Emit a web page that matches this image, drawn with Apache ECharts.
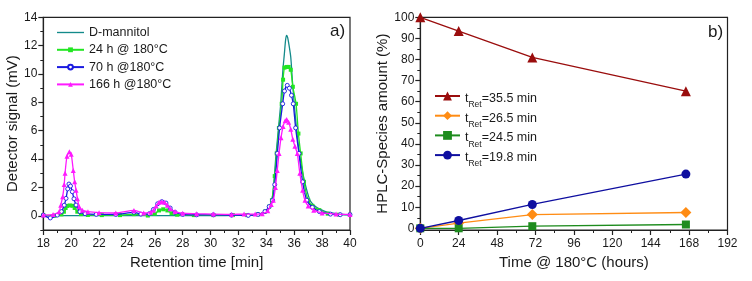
<!DOCTYPE html>
<html><head><meta charset="utf-8">
<script src="https://cdn.jsdelivr.net/npm/echarts@6/dist/echarts.min.js"></script>
<style>html,body{margin:0;padding:0;background:#fff}#c{width:752px;height:281px}</style>
</head><body><div id="c"></div>
<script>
// ---- Panel a) chromatograms: [retention time (min), signal (mV)]
const mannitol = [[18,0.02],[20,0.02],[22,0.02],[24,0.02],[26,0.02],[28,0.02],[30,0.02],[32,0.03],[33,0.05],[33.5,0.12],[34.0,0.35],[34.4,1.1],[34.7,4.4],[34.9,6.5],[35.03,7.9],[35.18,10.2],[35.29,11.4],[35.38,12.4],[35.45,12.73],[35.52,12.6],[35.6,12.2],[35.75,11.2],[35.87,9.5],[36.0,7.9],[36.18,6.0],[36.37,4.4],[36.7,2.6],[37.13,1.1],[37.6,0.6],[38.2,0.32],[38.6,0.22],[39.05,0.15],[39.5,0.1],[40,0.08]];
const h24 = [[18,0.05],[18.8,0.0],[19.3,0.1],[19.48,0.29],[19.6,0.55],[19.7,0.7],[19.9,0.73],[20.1,0.71],[20.25,0.55],[20.44,0.29],[20.7,0.12],[21.2,0.06],[22.2,0.05],[23.5,0.05],[24.5,0.12],[25.5,0.02],[26.0,0.15],[26.3,0.38],[26.6,0.46],[26.9,0.38],[27.2,0.18],[27.6,0.08],[28.8,0.05],[30.2,0.05],[31.6,0.05],[32.6,0.05],[33.4,0.1],[33.9,0.3],[34.2,0.65],[34.4,1.1],[34.6,2.8],[34.74,4.4],[34.9,6.2],[35.1,7.9],[35.2,9.6],[35.3,10.45],[35.45,10.5],[35.6,10.5],[35.75,10.3],[35.9,9.1],[36.13,7.9],[36.3,5.8],[36.46,4.4],[36.7,2.4],[37.0,1.1],[37.3,0.7],[37.8,0.4],[38.4,0.15],[39.2,0.08],[40,0.08]];
const h70 = [[18,0.05],[18.5,-0.15],[19.0,0.05],[19.3,0.3],[19.5,0.75],[19.63,1.23],[19.75,1.9],[19.84,2.24],[19.95,2.1],[20.08,1.7],[20.2,1.2],[20.35,0.76],[20.63,0.29],[21.0,0.15],[21.8,0.1],[23.2,0.1],[24.5,0.25],[25.0,0.12],[25.6,0.15],[25.9,0.45],[26.2,0.85],[26.5,1.0],[26.8,0.9],[27.1,0.55],[27.45,0.25],[28.0,0.1],[29.0,0.07],[30.2,0.07],[31.5,0.05],[32.7,0.03],[33.4,0.1],[33.9,0.3],[34.2,0.65],[34.45,1.1],[34.6,2.2],[34.79,4.4],[34.95,6.2],[35.17,7.9],[35.3,8.8],[35.5,9.2],[35.65,9.0],[35.8,8.5],[35.93,7.9],[36.1,6.2],[36.34,4.4],[36.6,2.4],[36.9,1.1],[37.3,0.6],[37.8,0.3],[38.6,0.12],[39.3,0.08],[40,0.08]];
const h166 = [[18,0.05],[18.7,0.1],[19.13,0.29],[19.25,0.75],[19.39,1.35],[19.5,2.2],[19.56,3.0],[19.7,4.2],[19.87,4.51],[20.0,4.35],[20.15,3.2],[20.25,2.4],[20.35,1.8],[20.45,1.2],[20.58,0.64],[20.8,0.4],[21.2,0.29],[22.0,0.22],[23.2,0.2],[24.5,0.38],[25.2,0.2],[25.7,0.25],[25.9,0.4],[26.1,0.7],[26.3,0.95],[26.49,1.0],[26.7,0.95],[26.9,0.75],[27.1,0.5],[27.45,0.3],[28.0,0.18],[29.0,0.15],[30.2,0.12],[31.5,0.1],[32.4,0.12],[33.2,0.12],[33.7,0.15],[34.1,0.35],[34.35,0.8],[34.5,1.1],[34.65,2.0],[34.78,3.2],[34.91,4.4],[35.05,5.5],[35.2,6.3],[35.35,6.7],[35.46,6.8],[35.6,6.6],[35.75,6.1],[35.9,5.4],[36.05,4.9],[36.22,4.4],[36.4,3.0],[36.6,1.8],[36.77,1.1],[37.0,0.7],[37.4,0.4],[38.0,0.2],[39.0,0.12],[40,0.1]];
const namesA = ['D-mannitol','24 h @ 180°C','70 h @180°C','166 h @180°C'];
const yTicksA = [0,2,4,6,8,10,12,14];
const yMinorA = [-1,1,3,5,7,9,11,13];

// ---- Panel b) species amount vs time
const hours = [0,24,70,166];
const ret355 = [100,93.5,81,65];
const ret265 = [0,2.5,6.5,7.5];
const ret245 = [0,0,1,1.8];
const ret198 = [0,3.7,11.3,25.7];
const retTimes = ['35.5','26.5','24.5','19.8'];
const yTicksB = [0,10,20,30,40,50,60,70,80,90,100];
const yMinorB = [5,15,25,35,45,55,65,75,85,95];

const FONT = "'Liberation Sans', Arial, sans-serif";
const TXT = '#1a1a1a';
const AX = '#222';
const namesB = retTimes.map(r => 'tRet=' + r + ' min');
const pairs = ys => hours.map((h, i) => [h, ys[i]]);

const chart = echarts.init(document.getElementById('c'), null, {renderer: 'canvas'});

function xAxisCfg(grid, min, max, interval, name) {
  return {
    type: 'value', gridIndex: grid, min, max, interval,
    name, nameLocation: 'middle', nameGap: 24,
    nameTextStyle: {fontFamily: FONT, fontSize: 15, color: TXT},
    axisLine: {show: true, onZero: false, lineStyle: {color: AX, width: 1.2}},
    axisTick: {show: true, inside: false, length: 5, lineStyle: {color: AX, width: 1.2}},
    minorTick: {show: true, splitNumber: 2, length: 3, lineStyle: {color: AX, width: 1}},
    axisLabel: {fontFamily: FONT, fontSize: 12, color: TXT, margin: 8},
    splitLine: {show: false}, minorSplitLine: {show: false}
  };
}
function yAxisMain(grid, min, max, ticks, name, gap) {
  return {
    type: 'value', gridIndex: grid, min, max,
    name, nameLocation: 'middle', nameGap: gap,
    nameTextStyle: {fontFamily: FONT, fontSize: 15, color: TXT},
    axisLine: {show: true, onZero: false, lineStyle: {color: AX, width: 1.2}},
    axisTick: {show: true, inside: false, length: 5, customValues: ticks, lineStyle: {color: AX, width: 1.2}},
    axisLabel: {fontFamily: FONT, fontSize: 12, color: TXT, margin: 6, customValues: ticks},
    splitLine: {show: false}
  };
}
function yAxisMinor(grid, min, max, ticks) {
  return {
    type: 'value', gridIndex: grid, min, max, position: 'left',
    axisLine: {show: false},
    axisTick: {show: true, inside: false, length: 3, customValues: ticks, lineStyle: {color: AX, width: 1}},
    axisLabel: {show: false},
    splitLine: {show: false}
  };
}

const colorsA = ['#138a8a', '#22e622', '#1a1ae0', '#ff1aff'];
const dataA = [mannitol, h24, h70, h166];
const symA = ['none', 'rect', 'circle', 'triangle'];
const symSizeA = [0, 4, 4, 5];

const colorsB = ['#9a0d0d', '#ff8c14', '#1e8c1e', '#0f0fa0'];
const dataB = [ret355, ret265, ret245, ret198];
const symB = ['triangle', 'diamond', 'rect', 'circle'];
const symSizeB = [10, 11, 8, 9];

const series = [];
dataA.forEach((d, i) => series.push({
  type: 'line', name: namesA[i], xAxisIndex: 0, yAxisIndex: 0, data: d,
  smooth: 0.25, symbol: symA[i], symbolSize: symSizeA[i], showSymbol: i > 0,
  lineStyle: {color: colorsA[i], width: 1.3},
  itemStyle: i === 2 ? {color: '#ffffff', borderColor: colorsA[i], borderWidth: 0.9}
                     : {color: colorsA[i], borderColor: colorsA[i], borderWidth: 0},
  emphasis: {disabled: true}, animation: false, z: 2 + i
}));
dataB.forEach((d, i) => series.push({
  type: 'line', name: namesB[i], xAxisIndex: 1, yAxisIndex: 2, data: pairs(d),
  symbol: symB[i], symbolSize: symSizeB[i],
  lineStyle: {color: colorsB[i], width: 1.3},
  itemStyle: {color: colorsB[i]},
  emphasis: {disabled: true}, animation: false, z: 2 + i
}));

chart.setOption({
  animation: false,
  backgroundColor: '#fff',
  grid: [
    {left: 43.3, top: 17.3, width: 306.7, height: 212.7, show: true, borderColor: AX, borderWidth: 1.2, containLabel: false},
    {left: 420.3, top: 17.3, width: 307.2, height: 212.7, show: true, borderColor: AX, borderWidth: 1.2, containLabel: false}
  ],
  xAxis: [
    xAxisCfg(0, 18, 40, 2, 'Retention time [min]'),
    xAxisCfg(1, 0, 192, 24, 'Time @ 180°C (hours)')
  ],
  yAxis: [
    yAxisMain(0, -1, 14, yTicksA, 'Detector signal (mV)', 22),
    yAxisMinor(0, -1, 14, yMinorA),
    yAxisMain(1, -0.8, 100, yTicksB, 'HPLC-Species amount (%)', 28),
    yAxisMinor(1, -0.8, 100, yMinorB)
  ],
  legend: [
    {
      orient: 'vertical', left: 56, top: 25.5, padding: 0, itemWidth: 27, itemHeight: 6, itemGap: 3.3,
      data: namesA.map((n, i) => i === 0 ? {name: n, icon: 'path://M0,0L100,0L100,5L0,5Z'} : {name: n}),
      textStyle: {fontFamily: FONT, fontSize: 12.5, color: TXT, lineHeight: 14},
      selectedMode: false
    },
    {
      orient: 'vertical', left: 434, top: 89, padding: 0, itemWidth: 25, itemHeight: 11, itemGap: -0.8,
      data: namesB,
      formatter: n => '{t|t}{s|Ret}{t|' + n.slice(4) + '}',
      textStyle: {
        fontFamily: FONT, fontSize: 12.5, color: TXT,
        rich: {
          t: {fontFamily: FONT, fontSize: 12.5, color: TXT, lineHeight: 14, verticalAlign: 'top', padding: [3, 0, 0, 0]},
          s: {fontFamily: FONT, fontSize: 8.5, color: TXT, lineHeight: 9, verticalAlign: 'top', padding: [11.5, 0, 0, 0]}
        }
      },
      selectedMode: false
    }
  ],
  graphic: [
    {type: 'text', left: 330, top: 23, style: {text: 'a)', fontFamily: FONT, fontSize: 17, fill: TXT}},
    {type: 'text', left: 708, top: 24, style: {text: 'b)', fontFamily: FONT, fontSize: 17, fill: TXT}}
  ],
  series
});
</script>
</body></html>
